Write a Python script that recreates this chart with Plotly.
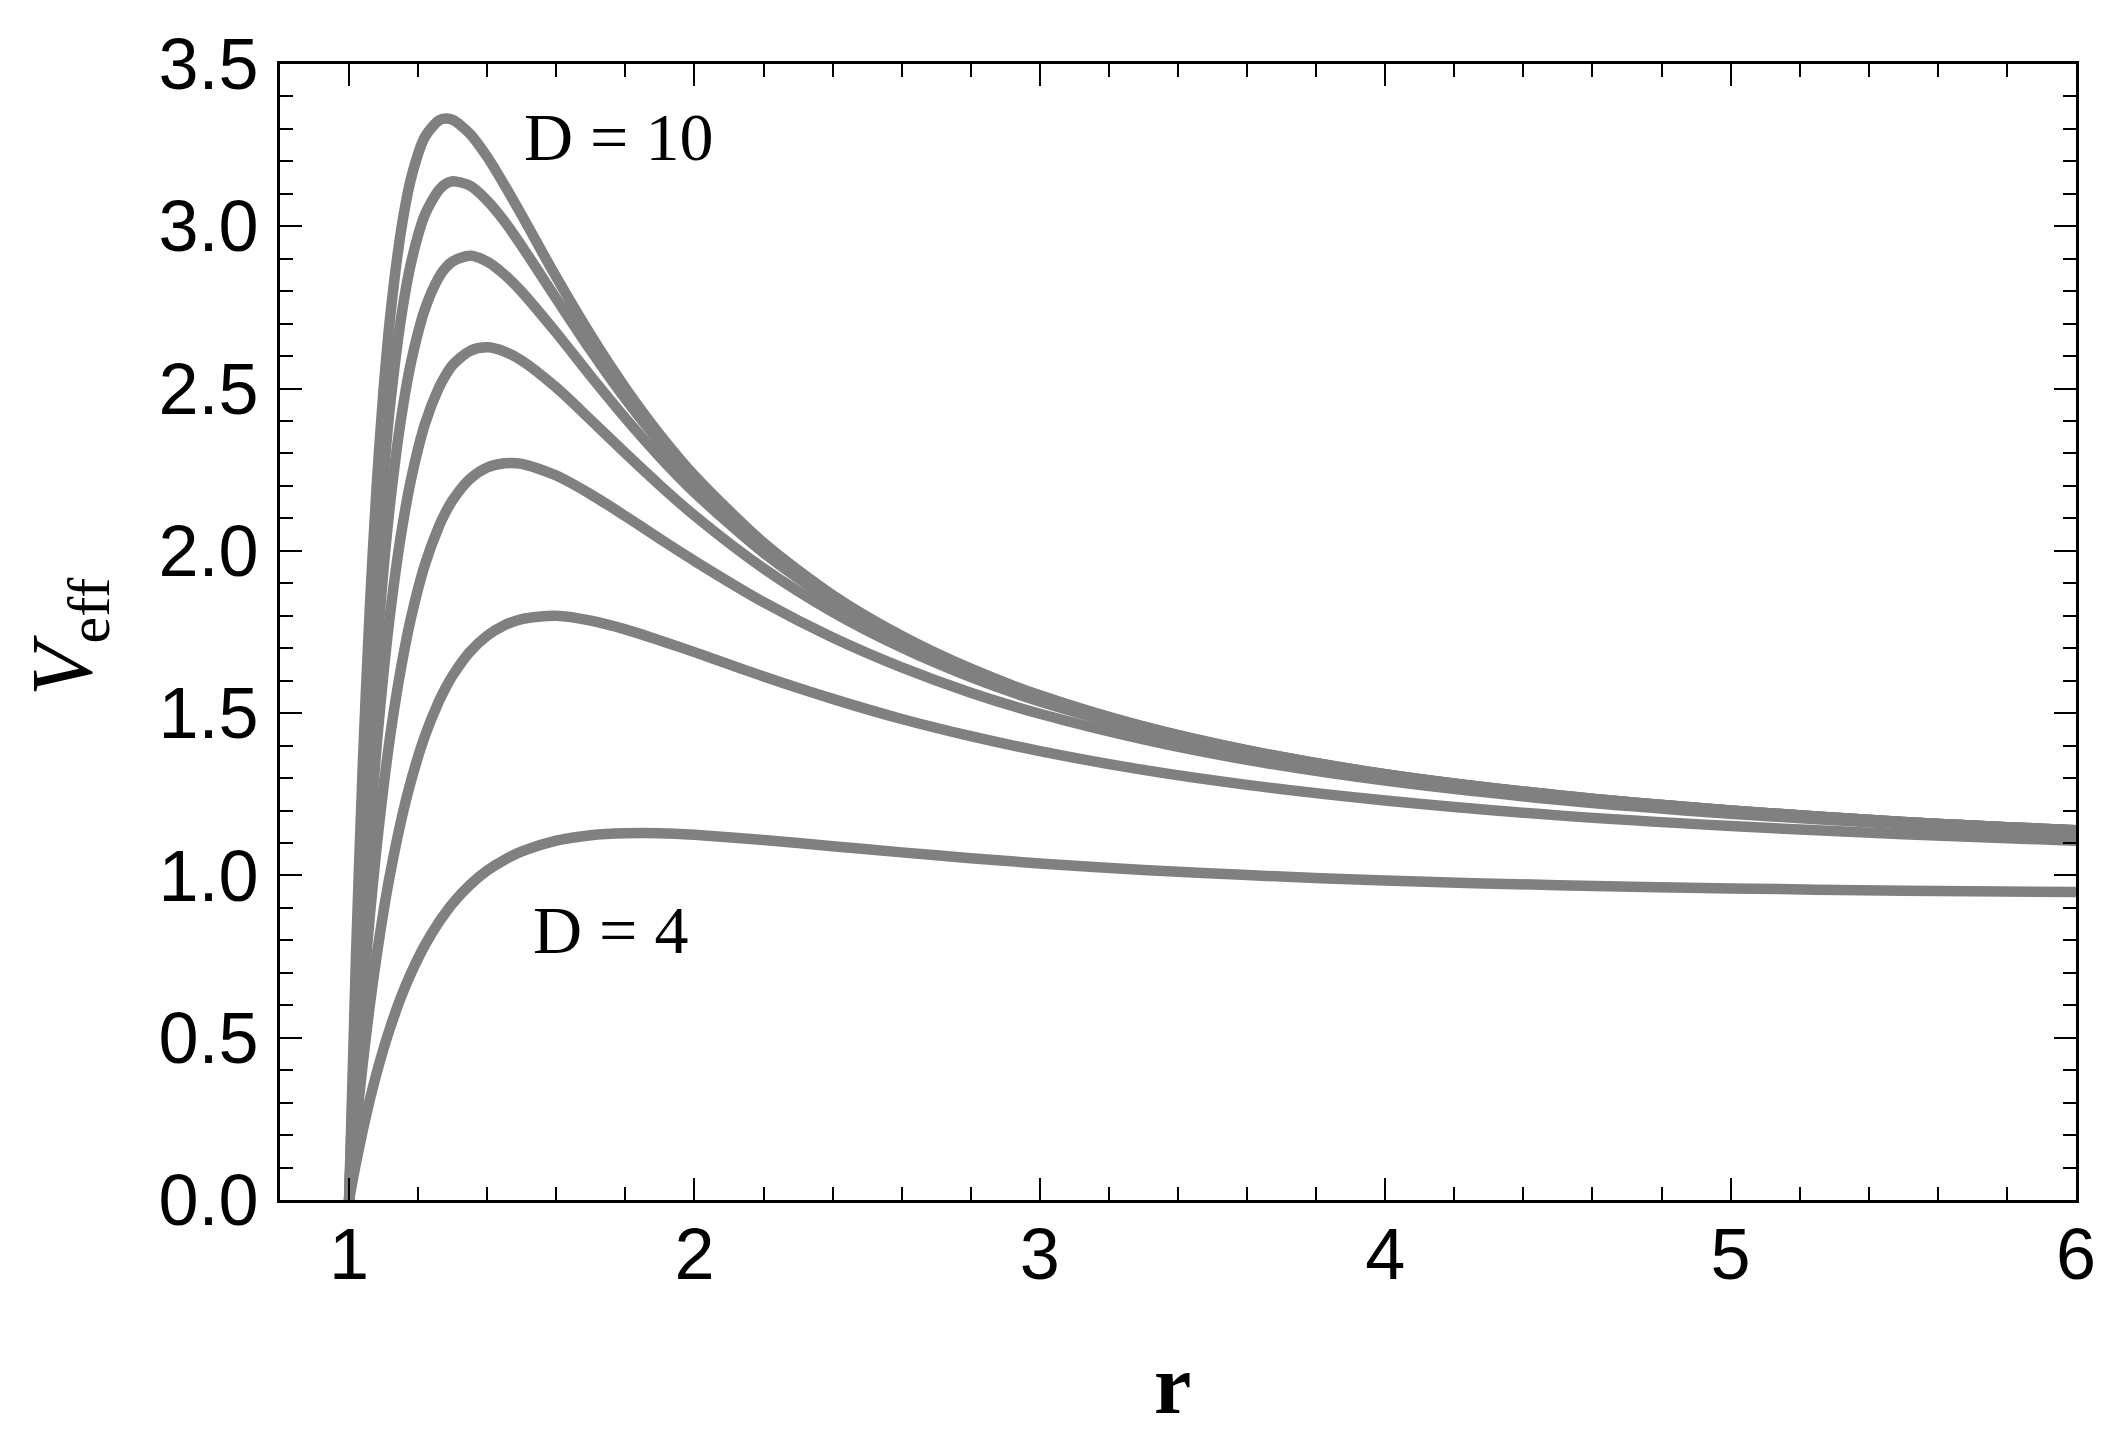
import plotly.graph_objects as go

# radial coordinate r (x axis)
r = [1.00, 1.02, 1.04, 1.06, 1.08, 1.10, 1.12, 1.15, 1.18, 1.22, 1.26, 1.28, 1.30,
     1.35, 1.40, 1.45, 1.50, 1.60, 1.70, 1.80, 1.90, 2.00, 2.20, 2.40, 2.60, 2.80,
     3.00, 3.30, 3.60, 4.00, 4.50, 5.00, 5.50, 6.00]

# V_eff, one list per dimension D
v_d4 = [0, 0.114, 0.216, 0.309, 0.392, 0.467, 0.534, 0.624, 0.700, 0.786, 0.856, 0.886, 0.914,
        0.971, 1.015, 1.048, 1.074, 1.107, 1.124, 1.130, 1.130, 1.125, 1.109, 1.090, 1.071, 1.053,
        1.037, 1.017, 1.001, 0.984, 0.970, 0.960, 0.953, 0.949]
v_d5 = [0, 0.225, 0.424, 0.600, 0.754, 0.891, 1.011, 1.166, 1.294, 1.431, 1.536, 1.579, 1.616,
        1.689, 1.739, 1.771, 1.790, 1.800, 1.785, 1.758, 1.724, 1.688, 1.613, 1.544, 1.482, 1.429,
        1.383, 1.325, 1.279, 1.231, 1.185, 1.152, 1.127, 1.107]
v_d6 = [0, 0.335, 0.624, 0.874, 1.090, 1.276, 1.437, 1.637, 1.797, 1.959, 2.075, 2.120, 2.157,
        2.222, 2.257, 2.270, 2.268, 2.232, 2.174, 2.107, 2.037, 1.969, 1.842, 1.733, 1.641, 1.563,
        1.498, 1.419, 1.356, 1.292, 1.233, 1.190, 1.158, 1.134]
v_d7 = [0, 0.442, 0.816, 1.133, 1.401, 1.627, 1.817, 2.047, 2.223, 2.392, 2.503, 2.542, 2.573,
        2.616, 2.627, 2.614, 2.586, 2.503, 2.403, 2.301, 2.202, 2.109, 1.946, 1.812, 1.702, 1.611,
        1.536, 1.447, 1.378, 1.307, 1.244, 1.198, 1.164, 1.138]
v_d8 = [0, 0.547, 1.001, 1.377, 1.689, 1.946, 2.157, 2.404, 2.584, 2.746, 2.843, 2.873, 2.892,
        2.909, 2.891, 2.851, 2.798, 2.672, 2.538, 2.409, 2.289, 2.180, 1.994, 1.845, 1.725, 1.628,
        1.549, 1.455, 1.384, 1.311, 1.246, 1.200, 1.165, 1.139]
v_d9 = [0, 0.650, 1.179, 1.608, 1.955, 2.235, 2.460, 2.714, 2.890, 3.037, 3.112, 3.131, 3.139,
        3.125, 3.079, 3.015, 2.939, 2.777, 2.617, 2.468, 2.334, 2.215, 2.015, 1.858, 1.734, 1.634,
        1.553, 1.458, 1.385, 1.312, 1.247, 1.200, 1.165, 1.139]
v_d10 = [0, 0.752, 1.350, 1.825, 2.202, 2.499, 2.731, 2.983, 3.150, 3.276, 3.326, 3.332, 3.328,
         3.285, 3.214, 3.127, 3.034, 2.843, 2.664, 2.502, 2.358, 2.232, 2.025, 1.864, 1.738, 1.637,
         1.555, 1.459, 1.386, 1.312, 1.247, 1.200, 1.165, 1.139]

series = [v_d4, v_d5, v_d6, v_d7, v_d8, v_d9, v_d10]
dims = [4, 5, 6, 7, 8, 9, 10]

x_ticks = [1, 2, 3, 4, 5, 6]
y_ticks = [0.0, 0.5, 1.0, 1.5, 2.0, 2.5, 3.0, 3.5]

LINE = "#808080"
SANS = "Liberation Sans, Arial, sans-serif"
SERIF = "Liberation Serif, Times New Roman, serif"

fig = go.Figure()
for d, v in zip(dims, series):
    fig.add_trace(go.Scatter(
        x=r, y=v, mode="lines", name=f"D = {d}",
        line=dict(color=LINE, width=10.5, shape="spline", smoothing=0.8),
        showlegend=False, hoverinfo="skip",
    ))

axis_common = dict(
    showline=True, linecolor="black", linewidth=3, mirror="ticks",
    ticks="inside", ticklen=22, tickwidth=1.5, tickcolor="black",
    showgrid=False, zeroline=False,
    tickfont=dict(family=SANS, size=72, color="black"),
)

fig.update_xaxes(
    range=[0.8, 6.0], tickvals=x_ticks, ticktext=[str(t) for t in x_ticks],
    minor=dict(ticks="inside", ticklen=13, tickwidth=1.5, tickcolor="black",
               tick0=1, dtick=0.2),
    ticklabelstandoff=-10,
    **axis_common,
)
fig.update_yaxes(
    range=[0, 3.5], tickvals=y_ticks, ticktext=[f"{t:.1f}" for t in y_ticks],
    minor=dict(ticks="inside", ticklen=13, tickwidth=1.5, tickcolor="black",
               tick0=0, dtick=0.1),
    ticklabelstandoff=4,
    **axis_common,
)

fig.add_annotation(x=1.50, y=3.275, xref="x", yref="y", text="D = 10",
                   showarrow=False, xanchor="left", yanchor="middle",
                   font=dict(family=SERIF, size=68, color="black"))
fig.add_annotation(x=1.528, y=0.832, xref="x", yref="y", text="D = 4",
                   showarrow=False, xanchor="left", yanchor="middle",
                   font=dict(family=SERIF, size=68, color="black"))

# axis titles
fig.add_annotation(x=0.4972, y=-0.162, xref="paper", yref="paper", text="<b>r</b>",
                   showarrow=False, xanchor="center", yanchor="middle",
                   font=dict(family=SERIF, size=84, color="black"))
fig.add_annotation(x=-0.118, y=0.4956, xref="paper", yref="paper",
                   text="<i>V</i><sub>eff</sub>", textangle=-90,
                   showarrow=False, xanchor="center", yanchor="middle",
                   font=dict(family=SERIF, size=86, color="black"))

# page body adds an 8px margin; size the figure so the plot box lands at
# x 280..2076, y 64..1200 of the window
fig.update_layout(
    width=2105, height=1432, autosize=False,
    margin=dict(l=272, r=37, t=56, b=240),
    paper_bgcolor="white", plot_bgcolor="white",
)

fig.write_html("out.html")
